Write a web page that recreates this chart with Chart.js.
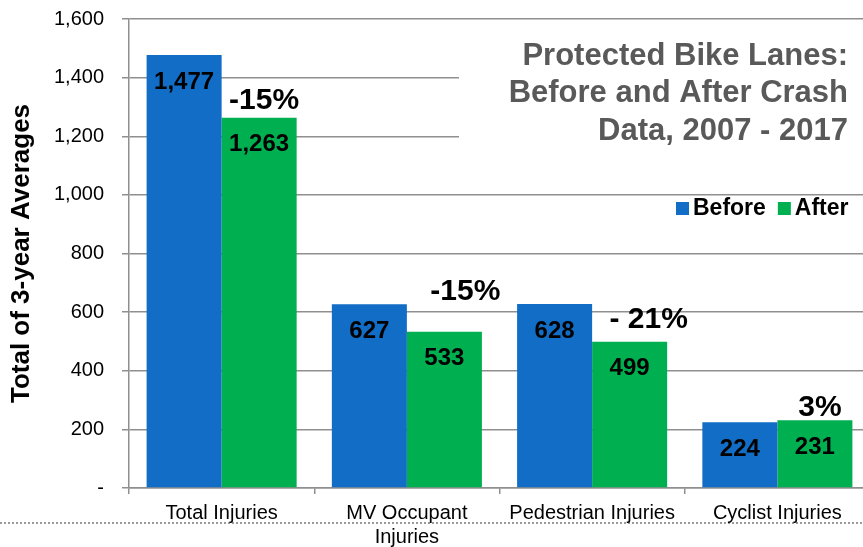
<!DOCTYPE html>
<html>
<head>
<meta charset="utf-8">
<script src="https://cdn.jsdelivr.net/npm/chart.js@4/dist/chart.umd.min.js"></script>
<style>
    html, body { margin: 0; padding: 0; background: #fff; }
    #wrap { width: 863px; height: 547px; overflow: hidden; position: relative; }
    #chart { display: block; }
</style>
</head>
<body>
<div id="wrap"><canvas id="chart" width="880" height="547"></canvas></div>
<script>
// Data
const categories = ['Total Injuries', ['MV Occupant', 'Injuries'], 'Pedestrian Injuries', 'Cyclist Injuries'];
const beforeValues = [1477, 627, 628, 224];
const afterValues = [1263, 533, 499, 231];
const changeLabels = ['-15%', '-15%', '- 21%', '3%'];
const yTicks = [0, 200, 400, 600, 800, 1000, 1200, 1400, 1600];
const titleLines = ['Protected Bike Lanes:', 'Before and After Crash', 'Data, 2007 - 2017'];

const BLUE = '#116dc5';
const GREEN = '#00af50';
const GRID = '#8f8f8f';
const FONT = '"Liberation Sans", Arial, sans-serif';

// where the change labels sit, relative to the "after" bar top
const changeOffsets = [[5, -17], [21, -40], [19, -22], [5, -13]];

//Slide decoration: dotted rule behind the axis labels
const dottedRule = {
    id: 'dottedRule',
    beforeDraw(chart) {
        const ctx = chart.ctx;
        ctx.save();
        ctx.strokeStyle = '#9a9a9a';
        ctx.lineWidth = 2;
        ctx.setLineDash([2, 2]);
        ctx.beginPath();
        ctx.moveTo(0, 523);
        ctx.lineTo(863, 523);
        ctx.stroke();
        ctx.restore();
    }
};

//Title block (white box over the gridlines) + legend
const titleBlock = {
    id: 'titleBlock',
    beforeDatasetsDraw(chart) {
        const ctx = chart.ctx;
        ctx.save();
        ctx.fillStyle = '#fff';
        ctx.fillRect(459, 24, 420, 145);
        ctx.fillStyle = '#595959';
        ctx.font = 'bold 31px ' + FONT;
        ctx.textAlign = 'right';
        ctx.textBaseline = 'middle';
        titleLines.forEach((line, i) => ctx.fillText(line, 848, 56 + i * 37.5));

        // legend
        ctx.font = 'bold 23px ' + FONT;
        ctx.textAlign = 'left';
        let x = 676;
        chart.data.datasets.forEach(ds => {
            ctx.fillStyle = ds.backgroundColor;
            ctx.fillRect(x, 202, 13, 13);
            ctx.fillStyle = '#000';
            ctx.fillText(ds.label, x + 17, 209);
            x += 17 + ctx.measureText(ds.label).width + 12;
        });
        ctx.restore();
    }
};

//Value labels inside bars and the % change above each pair
const barLabels = {
    id: 'barLabels',
    afterDatasetsDraw(chart) {
        const ctx = chart.ctx;
        ctx.save();
        ctx.fillStyle = '#000';
        ctx.textAlign = 'center';
        ctx.textBaseline = 'middle';
        ctx.font = 'bold 24px ' + FONT;
        chart.data.datasets.forEach((ds, di) => {
            chart.getDatasetMeta(di).data.forEach((bar, i) => {
                ctx.fillText(ds.data[i].toLocaleString('en-US'), bar.x, bar.y + 27);
            });
        });
        ctx.font = 'bold 30px ' + FONT;
        chart.getDatasetMeta(1).data.forEach((bar, i) => {
            ctx.fillText(changeLabels[i], bar.x + changeOffsets[i][0], bar.y + changeOffsets[i][1]);
        });
        ctx.restore();
    }
};

var ctx = document.getElementById('chart');
var chart = new Chart(ctx, {
    type: 'bar',
    data: {
        labels: categories,
        datasets: [
            { label: 'Before', data: beforeValues, backgroundColor: BLUE },
            { label: 'After', data: afterValues, backgroundColor: GREEN }
        ]
    },
    options: {
        responsive: false,
        devicePixelRatio: 1,
        animation: false,
        layout: { padding: { top: 19, right: 10, left: 0, bottom: 0 } },
        datasets: {
            bar: { categoryPercentage: 0.81, barPercentage: 1.0 }
        },
        plugins: {
            legend: { display: false },
            tooltip: { enabled: false }
        },
        scales: {
            x: {
                grid: { drawOnChartArea: false, drawTicks: true, tickLength: 6, color: GRID, lineWidth: 1.5 },
                border: { color: GRID, width: 1.5 },
                ticks: { color: '#000', font: { family: FONT, size: 20 }, padding: 7, maxRotation: 0, autoSkip: false },
                afterFit(scale) { scale.height = 59; }
            },
            y: {
                min: 0,
                max: 1600,
                afterBuildTicks(scale) { scale.ticks = yTicks.map(v => ({ value: v })); },
                grid: { color: GRID, lineWidth: 1.5, tickLength: 7 },
                border: { color: GRID, width: 1.5 },
                ticks: {
                    color: '#000',
                    font: { family: FONT, size: 20 },
                    padding: 18,
                    callback: v => v === 0 ? '-' : v.toLocaleString('en-US')
                },
                title: {
                    display: true,
                    text: 'Total of 3-year Averages',
                    color: '#000',
                    font: { family: FONT, size: 26, weight: 'bold' },
                    padding: { top: 6, bottom: 0 }
                },
                afterFit(scale) {
                    scale.width = 129;
                    scale.paddingTop = 0;
                    scale.paddingBottom = 0;
                }
            }
        }
    },
    plugins: [dottedRule, titleBlock, barLabels]
});
</script>
</body>
</html>
